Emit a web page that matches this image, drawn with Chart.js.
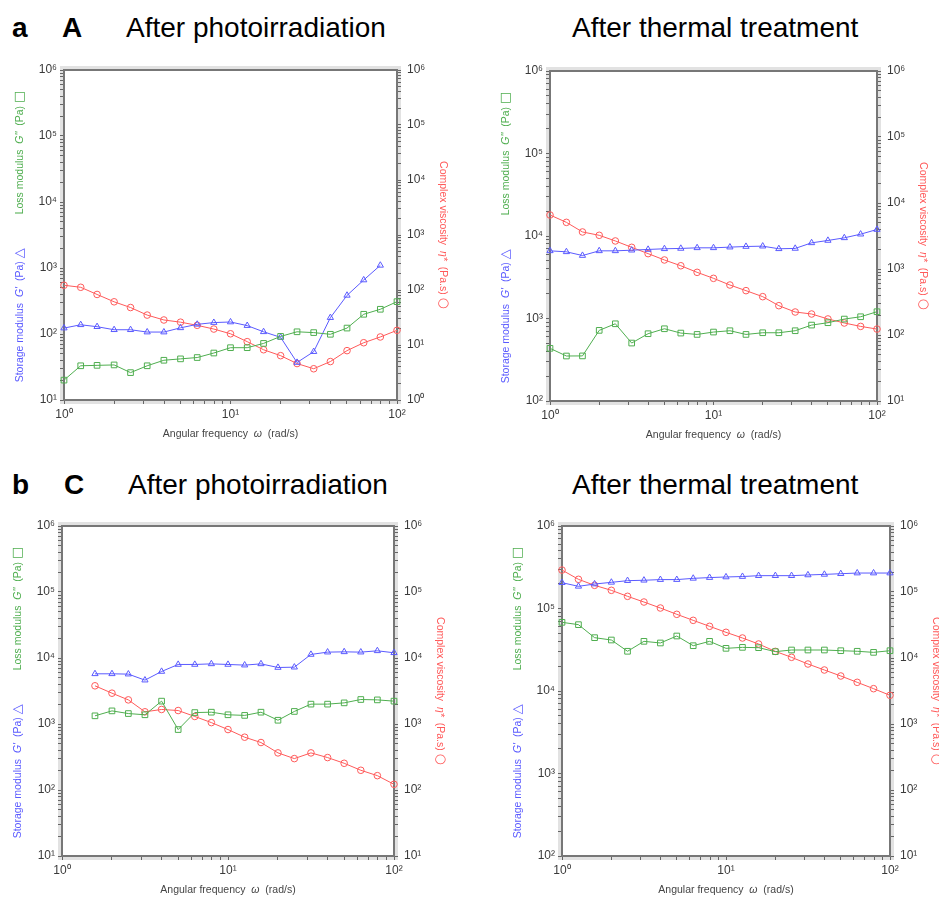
<!DOCTYPE html>
<html>
<head>
<meta charset="utf-8">
<script src="https://cdn.jsdelivr.net/npm/chart.js@4/dist/chart.umd.min.js"></script>
<style>
  html, body { margin: 0; padding: 0; background: #fff; }
  body { width: 939px; height: 897px; position: relative; overflow: hidden;
         font-family: "Liberation Sans", Arial, sans-serif; }
  .t { position: absolute; font-size: 28px; line-height: 28px; color: #000; white-space: nowrap; }
  .b { font-weight: bold; }
  canvas { position: absolute; }
</style>
</head>
<body>
<div class="t b" style="left:12px;top:14px">a</div>
<div class="t b" style="left:62px;top:14px">A</div>
<div class="t" style="left:126px;top:14px">After photoirradiation</div>
<div class="t" style="left:572px;top:14px">After thermal treatment</div>
<div class="t b" style="left:12px;top:471px">b</div>
<div class="t b" style="left:64px;top:471px">C</div>
<div class="t" style="left:128px;top:471px">After photoirradiation</div>
<div class="t" style="left:572px;top:471px">After thermal treatment</div>

<canvas id="cA" width="470" height="400" style="left:0px;top:50px"></canvas>
<canvas id="cB" width="469" height="400" style="left:470px;top:50px"></canvas>
<canvas id="cC" width="470" height="397" style="left:0px;top:500px"></canvas>
<canvas id="cD" width="469" height="397" style="left:470px;top:500px"></canvas>

<script>
// Angular frequency sweep, 10 points per decade (rad/s)
const freq = [1, 1.26, 1.58, 2, 2.51, 3.16, 3.98, 5.01, 6.31, 7.94, 10,
              12.6, 15.8, 20, 25.1, 31.6, 39.8, 50.1, 63.1, 79.4, 100];

// Panel A: after photoirradiation (G', G'' in Pa; eta* in Pa.s)
const aStorage = [123, 138, 129, 116, 116, 107, 107, 124, 140, 149, 152, 134, 108, 89, 37, 54, 177, 385, 658, 1097];
const aLoss    = [20, 33, 33.5, 34, 26, 33, 40, 42, 44, 51.5, 62, 62, 72, 92, 108, 105, 99, 123, 199, 237, 309];
const aVisc    = [122, 112, 83, 61, 48, 35, 28.5, 26, 22.8, 19.5, 16, 11.5, 8.2, 6.4, 4.6, 3.7, 5.0, 7.9, 11, 14, 18.5];

// Panel A: after thermal treatment
const bStorage = [6610, 6430, 5800, 6610, 6610, 6730, 6870, 7000, 7070, 7190, 7190, 7330, 7460, 7530, 7000, 7070, 8260, 8830, 9500, 10520, 11990];
const bLoss    = [435, 351, 352, 718, 863, 504, 654, 751, 666, 641, 685, 711, 641, 672, 672, 711, 832, 889, 984, 1050, 1208];
const bVisc    = [6580, 5090, 3640, 3240, 2660, 2130, 1710, 1370, 1120, 890, 722, 572, 470, 381, 278, 223, 208, 175, 152, 135, 123];

// Panel C: after photoirradiation (sweep starts at 1.58 rad/s)
const cStorage = [5760, 5760, 5700, 4620, 6250, 7980, 7980, 8150, 7980, 7800, 8150, 7180, 7260, 11320, 12270, 12400, 12270, 12850, 12000];
const cLoss    = [1330, 1580, 1440, 1380, 2220, 824, 1490, 1510, 1380, 1350, 1510, 1140, 1550, 2000, 2000, 2090, 2350, 2320, 2220];
const cVisc    = [3790, 2930, 2320, 1530, 1660, 1600, 1300, 1050, 824, 631, 524, 365, 299, 365, 310, 254, 199, 165, 122];

// Panel C: after thermal treatment
const dStorage = [205600, 185700, 198000, 207600, 217500, 220000, 224000, 224000, 232000, 237000, 241000, 244000, 250000, 250000, 250000, 255000, 259000, 264000, 269000, 269000, 269000];
const dLoss    = [68000, 63700, 44300, 41500, 30300, 40000, 38200, 46400, 35400, 40000, 32900, 33800, 33500, 30000, 31400, 31400, 31400, 30800, 30300, 29400, 30800];
const dVisc    = [215000, 155600, 126200, 106000, 86000, 70500, 57200, 45900, 37200, 30200, 24500, 20100, 16300, 12600, 10240, 8110, 6580, 5340, 4280, 3430, 2720];

// Axis ranges (powers of ten)
const xRange = [1, 100];
const aLeft = [1e1, 1e6], aRight = [1e0, 1e6];
const bLeft = [1e2, 1e6], bRight = [1e1, 1e6];
const cLeft = [1e1, 1e6], cRight = [1e1, 1e6];
const dLeft = [1e2, 1e6], dRight = [1e1, 1e6];

const BLUE = '#5a5aff', GREEN = '#4fae4f', RED = '#ff5a5a';
const FONT = '"Liberation Sans", Arial, sans-serif';
Chart.defaults.font.family = FONT;

const SUP = { '-1': '⁻¹', 0: '⁰', 1: '¹', 2: '²', 3: '³', 4: '⁴', 5: '⁵', 6: '⁶', 7: '⁷', 8: '⁸', 9: '⁹' };
function powLabel(v) {
  const l = Math.log10(v), e = Math.round(l);
  return Math.abs(l - e) < 1e-9 ? '10' + SUP[e] : '';
}
function logTicks(min, max) {
  const out = [];
  const e0 = Math.round(Math.log10(min)), e1 = Math.round(Math.log10(max));
  for (let e = e0; e <= e1; e++) {
    for (let s = 1; s <= 9; s++) {
      const v = s * Math.pow(10, e);
      if (v >= min * (1 - 1e-9) && v <= max * (1 + 1e-9)) out.push({ value: v, major: s === 1 });
    }
  }
  return out;
}

function pts(values, offset) {
  return values.map((v, i) => ({ x: freq[i + offset], y: v }));
}

function series(label, values, offset, color, style, radius, axis) {
  return {
    label, data: pts(values, offset), yAxisID: axis,
    borderColor: color, borderWidth: 1, backgroundColor: 'transparent',
    pointStyle: style, pointRadius: radius, pointHoverRadius: radius,
    pointBorderColor: color, pointBackgroundColor: 'rgba(255,255,255,0)', pointBorderWidth: 1,
    tension: 0, clip: false
  };
}

function logAxis(pos, range, size, pad) {
  const [min, max] = range;
  return {
    type: 'logarithmic', position: pos, min, max,
    afterBuildTicks: s => { s.ticks = logTicks(min, max); },
    afterFit: s => { if (pos === 'bottom') s.height = size; else s.width = size; },
    ticks: { autoSkip: false, maxRotation: 0, minRotation: 0, color: '#3a3a3a',
             font: { size: 12 }, padding: pad, callback: v => powLabel(v) },
    grid: { drawOnChartArea: false, tickLength: 4, color: '#666', tickColor: '#666' },
    border: { display: true, color: '#777', width: 2 }
  };
}

function drawRich(ctx, segs, x, y, angle) {
  ctx.save();
  ctx.translate(x, y);
  ctx.rotate(angle);
  let total = 0;
  segs.forEach(s => {
    if (s.gap) { s.w = s.gap; } else { ctx.font = s.font; s.w = ctx.measureText(s.t).width; }
    total += s.w;
  });
  let cx = -total / 2;
  ctx.textBaseline = 'middle';
  ctx.textAlign = 'left';
  segs.forEach(s => {
    if (!s.gap) { ctx.font = s.font; ctx.fillStyle = s.color; ctx.fillText(s.t, cx, 0); }
    cx += s.w;
  });
  ctx.restore();
}

const F = '10.5px ' + FONT, FI = 'italic 10.5px ' + FONT, FS = '13px "DejaVu Sans", ' + FONT;
const leftTitle = [
  { t: 'Storage modulus  ', font: F, color: BLUE }, { t: "G'", font: FI, color: BLUE },
  { t: '  (Pa) ', font: F, color: BLUE }, { t: '△', font: FS, color: BLUE },
  { gap: 34 },
  { t: 'Loss modulus  ', font: F, color: GREEN }, { t: "G''", font: FI, color: GREEN },
  { t: '  (Pa) ', font: F, color: GREEN }, { t: '□', font: FS, color: GREEN }
];
const rightTitle = [
  { t: 'Complex viscosity  ', font: F, color: RED }, { t: 'η*', font: FI, color: RED },
  { t: '  (Pa.s) ', font: F, color: RED }, { t: '○', font: FS, color: RED }
];
const bottomTitle = [
  { t: 'Angular frequency  ', font: F, color: '#444' }, { t: 'ω', font: FI, color: '#444' },
  { t: '  (rad/s)', font: F, color: '#444' }
];

// Frame and axis titles around each plot area
const framePlugin = {
  id: 'frameTitles',
  beforeDraw(chart) {
    const { ctx, chartArea: a } = chart;
    ctx.save();
    ctx.strokeStyle = '#e2e2e2';
    ctx.lineWidth = 3;
    ctx.strokeRect(a.left - 2.5, a.top - 2.5, a.right - a.left + 5, a.bottom - a.top + 5);
    ctx.restore();
  },
  afterDraw(chart) {
    const { ctx, chartArea: a } = chart;
    ctx.save();
    ctx.strokeStyle = '#777';
    ctx.lineWidth = 2;
    ctx.beginPath();
    ctx.moveTo(a.left - 1, a.top);
    ctx.lineTo(a.right + 1, a.top);
    ctx.stroke();
    ctx.restore();
    const midY = (a.top + a.bottom) / 2;
    drawRich(ctx, leftTitle, a.left - 44, midY + 1.5, -Math.PI / 2);
    drawRich(ctx, rightTitle, a.right + 46, midY, Math.PI / 2);
    drawRich(ctx, bottomTitle, (a.left + a.right) / 2, a.bottom + 34, 0);
  }
};

function makeChart(id, cfg) {
  const c = document.getElementById(id);
  return new Chart(c, {
    type: 'line',
    data: {
      datasets: [
        series("G''", cfg.loss, cfg.offset, GREEN, 'rect', 4, 'y'),
        series("G'", cfg.storage, cfg.offset, BLUE, 'triangle', 3.6, 'y'),
        series('η*', cfg.visc, cfg.offset, RED, 'circle', 3.3, 'y2')
      ]
    },
    options: {
      responsive: false, animation: false, devicePixelRatio: 1,
      layout: { padding: { left: 0, right: 0, top: cfg.top, bottom: 0 } },
      plugins: { legend: { display: false }, tooltip: { enabled: false } },
      scales: {
        x: logAxis('bottom', xRange, cfg.xh, 3),
        y: logAxis('left', cfg.left, cfg.lw, 3),
        y2: logAxis('right', cfg.right, cfg.rw, 6)
      }
    },
    plugins: [framePlugin]
  });
}

makeChart('cA', { storage: aStorage, loss: aLoss, visc: aVisc, offset: 0,
  left: aLeft, right: aRight, top: 20, lw: 64, rw: 73, xh: 50 });
makeChart('cB', { storage: bStorage, loss: bLoss, visc: bVisc, offset: 0,
  left: bLeft, right: bRight, top: 21, lw: 80, rw: 62, xh: 49 });
makeChart('cC', { storage: cStorage, loss: cLoss, visc: cVisc, offset: 2,
  left: cLeft, right: cRight, top: 26, lw: 62, rw: 76, xh: 41 });
makeChart('cD', { storage: dStorage, loss: dLoss, visc: dVisc, offset: 0,
  left: dLeft, right: dRight, top: 26, lw: 92, rw: 49, xh: 41 });
</script>
</body>
</html>
